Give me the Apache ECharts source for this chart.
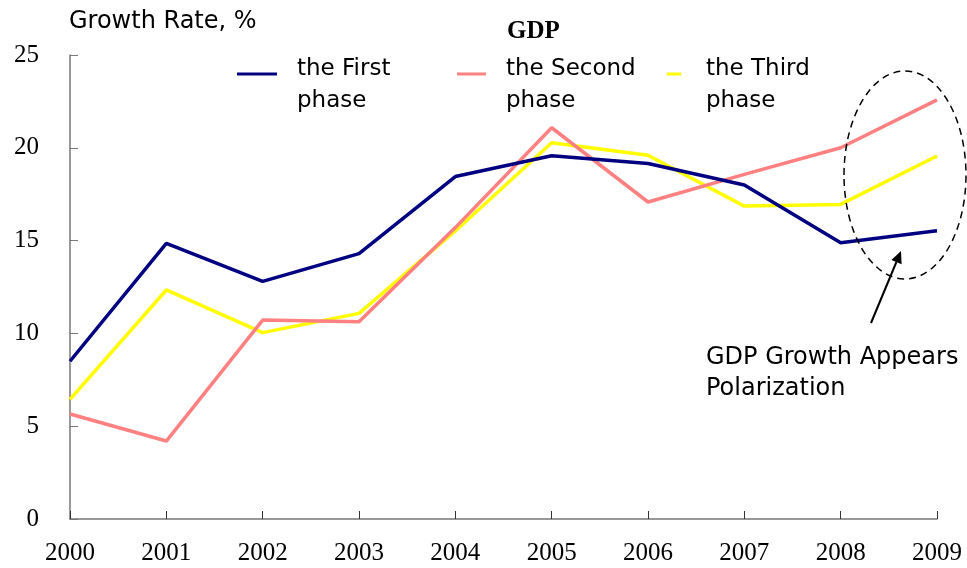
<!DOCTYPE html>
<html>
<head>
<meta charset="utf-8">
<script src="https://cdn.jsdelivr.net/npm/echarts@6/dist/echarts.min.js"></script>
<style>
html,body{margin:0;padding:0;background:#fff;}
#chart{width:967px;height:568px;}
</style>
</head>
<body>
<div id="chart"></div>
<script>
const years = ['2000','2001','2002','2003','2004','2005','2006','2007','2008','2009'];
const firstPhase  = [8.5, 14.85, 12.8, 14.3, 18.45, 19.57, 19.15, 18.0, 14.88, 15.53];
const secondPhase = [5.66, 4.2, 10.72, 10.63, 15.7, 21.08, 17.08, 18.57, 20.0, 22.58];
const thirdPhase  = [6.45, 12.34, 10.04, 11.08, 15.52, 20.27, 19.6, 16.86, 16.95, 19.56];
const yTicks = [0, 5, 10, 15, 20, 25];
const seriesNames = ['the First phase', 'the Second phase', 'the Third phase'];
const seriesColors = ['#000080', '#FF8080', '#FFFF00'];

const SANS = 'DejaVu Sans';
const SERIF = 'Liberation Serif';

const chart = echarts.init(document.getElementById('chart'), null, {renderer: 'canvas'});

function mkLegend(name, left, iw, padL) {
  return {
    data: [name],
    left: left,
    top: 31,
    padding: 0,
    itemWidth: iw,
    itemHeight: 3,
    icon: 'rect',
    formatter: n => '{s| }\n{t|' + n.replace(' phase', '}\n{t|phase') + '}',
    textStyle: {
      fontFamily: SANS, fontSize: 23, lineHeight: 32, color: '#000',
      padding: [0, 0, 0, padL],
      rich: {
        s: {fontSize: 10, lineHeight: 22, height: 22},
        t: {fontFamily: SANS, fontSize: 23, lineHeight: 32, color: '#000'}
      }
    }
  };
}

const option = {
  backgroundColor: '#fff',
  animation: false,
  title: [
    {text: 'Growth Rate, %', left: 69, top: 10, padding: 0,
     textStyle: {fontFamily: SANS, fontSize: 24, fontWeight: 'normal', color: '#000'}},
    {text: 'GDP', left: 507, top: 19, padding: 0,
     textStyle: {fontFamily: SERIF, fontSize: 25, fontWeight: 'bold', color: '#000'}}
  ],
  legend: [
    mkLegend(seriesNames[0], 237, 40, 15),
    mkLegend(seriesNames[1], 457, 29, 15),
    mkLegend(seriesNames[2], 667, 14, 20)
  ],
  grid: {left: 70, right: 30, top: 55, bottom: 49, containLabel: false},
  xAxis: {
    type: 'category',
    data: years,
    boundaryGap: false,
    axisLine: {lineStyle: {color: '#777', width: 1.5}},
    axisTick: {inside: true, length: 8, lineStyle: {color: '#333', width: 1}},
    axisLabel: {fontFamily: SERIF, fontSize: 25, color: '#000', margin: 22}
  },
  yAxis: {
    type: 'value',
    min: yTicks[0],
    max: yTicks[yTicks.length - 1],
    interval: 5,
    splitLine: {show: false},
    axisLine: {show: true, lineStyle: {color: '#777', width: 1.5}},
    axisTick: {show: true, inside: true, length: 8, lineStyle: {color: '#777', width: 1}},
    axisLabel: {fontFamily: SERIF, fontSize: 25, color: '#000', margin: 31}
  },
  series: [firstPhase, secondPhase, thirdPhase].map((d, i) => ({
    name: seriesNames[i],
    type: 'line',
    data: d,
    symbol: 'none',
    color: seriesColors[i],
    lineStyle: {color: seriesColors[i], width: 3.5},
    z: 3 - i
  })),
  graphic: [
    {type: 'ellipse', shape: {cx: 905, cy: 175, rx: 61, ry: 104},
     style: {fill: null, stroke: '#000', lineWidth: 1.5, lineDash: [7, 5]}, z: 10},
    {type: 'line', shape: {x1: 871, y1: 323, x2: 896.4, y2: 262},
     style: {stroke: '#000', lineWidth: 2}, z: 10},
    {type: 'polygon', shape: {points: [[901, 251], [901.6, 264.2], [891.4, 260]]},
     style: {fill: '#000'}, z: 10},
    {type: 'text', left: 706, top: 342, z: 10,
     style: {text: 'GDP Growth Appears\nPolarization', fontFamily: SANS, fontSize: 24,
             lineHeight: 31, fill: '#000'}}
  ]
};
chart.setOption(option);
</script>
</body>
</html>
